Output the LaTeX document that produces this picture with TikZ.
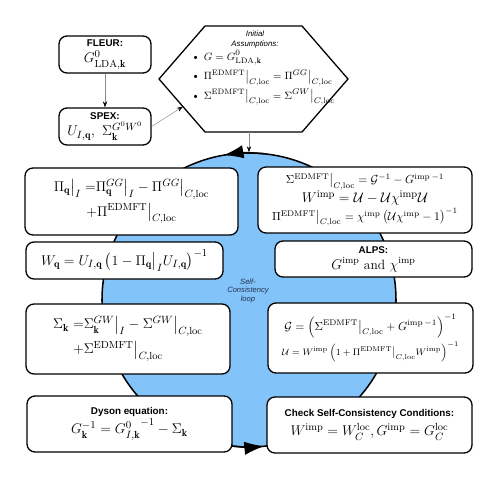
\documentclass[tikz,border=0pt]{standalone}
\usepackage{amsmath}
\usepackage{amssymb}
\usepackage{fontspec}
\newfontfamily\headfont{Liberation Sans}
\usepackage{tikz}
\usetikzlibrary{positioning, arrows.meta, calc}
\definecolor{loopFill}{RGB}{130,196,250}
\definecolor{loopText}{HTML}{24324F}
\definecolor{feedLine}{HTML}{8C8C8C}
\newcommand{\boxhead}[1]{{\headfont\bfseries\fontsize{8.4}{10}\selectfont #1}}
\newcommand{\cloc}{\big|_{C,\mathrm{loc}}}
\newcommand{\atI}{\big|_{I}}
\newcommand{\vq}{\mathbf{q}}
\newcommand{\vk}{\mathbf{k}}
\newcommand{\edm}{\mathrm{EDMFT}}
\newcommand{\imps}{\mathrm{imp}}
\newcommand{\tighteq}{\mathrel{=}\mkern-5mu}

\begin{document}
\begin{tikzpicture}[
  every node/.style={font=\fontsize{12.5}{15}\selectfont},
  eqbox/.style={rectangle, rounded corners=2.4mm, draw=black, line width=1.1pt,
              fill=white, align=center, inner sep=0.8mm},
  hexa/.style={draw=black, line width=1.1pt, fill=white, line join=miter},
  loopcirc/.style={circle, draw=black, line width=1.3pt, fill=loopFill,
              inner sep=0pt, minimum size=88.2mm},
  feed/.style={-{Stealth[length=1.8mm, width=1.3mm, color=black]}, draw=feedLine, line width=0.4pt},
  looptip/.style={-{Latex[length=6mm, width=4mm]}, black, line width=1.3pt},
]
  \useasboundingbox (0,0) rectangle (149.4mm,-144.9mm);

  % self-consistency loop
  \node[loopcirc] at (74.7mm, -90mm) (loop) {};
  \draw[looptip] ($(loop.center)+(84:44.1mm)$) arc (84:100:44.1mm);
  \draw[looptip] ($(loop.center)+(262:44.1mm)$) arc (262:276:44.1mm);
  \node[font=\headfont\itshape\fontsize{6.5}{7.5}\selectfont, text=loopText, align=center]
        at (74.4mm, -87.3mm) (looplbl) {Self-\\Consistency\\loop};

  % inputs
  \node[eqbox, minimum width=27.6mm, minimum height=11.1mm] at (31.5mm, -16.35mm) (fleur)
        {\boxhead{FLEUR:}\\[-0.5mm] $G^0_{\mathrm{LDA},\vk}$};
  \node[eqbox, minimum width=27.6mm, minimum height=11.1mm] at (31.5mm, -37.95mm) (spex)
        {\boxhead{SPEX:}\\[-0.5mm] $U_{I,\vq},\ \Sigma^{G^0W^0}_{\vk}$};

  % initial assumptions
  \coordinate (hex_w)  at (47.7mm, -23.7mm);
  \coordinate (hex_nw) at (61.5mm, -7.8mm);
  \coordinate (hex_ne) at (90.6mm, -7.8mm);
  \coordinate (hex_e)  at (104.4mm, -23.7mm);
  \coordinate (hex_se) at (90.6mm, -39.6mm);
  \coordinate (hex_sw) at (61.5mm, -39.6mm);
  \draw[hexa] (hex_w) -- (hex_nw) -- (hex_ne) -- (hex_e) -- (hex_se) -- (hex_sw) -- cycle;
  \node[font=\headfont\itshape\fontsize{6.7}{8}\selectfont, align=center]
        at (76.5mm, -11.8mm) (assumehd) {Initial\\Assumptions:};
  \node[font=\fontsize{9.5}{16.5}\selectfont, align=left, anchor=west]
        at (56.2mm, -23.4mm) (assume)
        {\textbullet\ $G=G^0_{\mathrm{LDA},\vk}$\\
         \textbullet\ $\Pi^{\edm}\cloc=\Pi^{GG}\cloc$\\
         \textbullet\ $\Sigma^{\edm}\cloc=\Sigma^{GW}\cloc$};
  \coordinate (hex_in) at ($(hex_w)!0.52!(hex_sw)$);

  % left half of the loop
  \node[eqbox, minimum width=63.9mm, minimum height=20.1mm] at (39.45mm, -60.45mm) (pol)
        {$\Pi_{\vq}\atI\tighteq\Pi^{GG}_{\vq}\atI-\Pi^{GG}\cloc$\\[1mm]
         $+\Pi^{\edm}\cloc$};
  \node[eqbox, minimum width=59.1mm, minimum height=11.1mm] at (37.35mm, -78.15mm) (scr)
        {$W_{\vq}=U_{I,\vq}\left(1-\Pi_{\vq}\atI U_{I,\vq}\right)^{-1}$};
  \node[eqbox, minimum width=61.2mm, minimum height=21mm] at (38.4mm, -101.7mm) (self)
        {$\Sigma_{\vk}\tighteq\Sigma^{GW}_{\vk}\atI-\Sigma^{GW}\cloc$\\[1mm]
         $+\Sigma^{\edm}\cloc$\hspace*{6mm}};
  \node[eqbox, minimum width=61.5mm, minimum height=16.8mm] at (38.85mm, -127.2mm) (dyson)
        {\boxhead{Dyson equation:}\\[0.5mm]
         $G^{-1}_{\vk}={G^0_{I,\vk}}^{-1}-\Sigma_{\vk}$};

  % right half of the loop
  \node[eqbox, minimum width=64.2mm, minimum height=19.8mm] at (109.5mm, -60mm) (imp)
        {{\fontsize{10}{12}\selectfont $\Sigma^{\edm}\cloc=\mathcal{G}^{-1}-G^{\imps\,-1}$}\\
         $W^{\imps}=\mathcal{U}-\mathcal{U}\chi^{\imps}\mathcal{U}$\\
         {\fontsize{10}{12}\selectfont $\Pi^{\edm}\cloc=\chi^{\imps}\left(\mathcal{U}\chi^{\imps}-1\right)^{-1}$}};
  \node[eqbox, minimum width=59.1mm, minimum height=10.8mm] at (112.05mm, -77.7mm) (alps)
        {\boxhead{ALPS:}\\[-0.5mm] {\fontsize{11.5}{13}\selectfont $G^{\imps}$ and $\chi^{\imps}$}};
  \node[eqbox, minimum width=61.5mm, minimum height=21mm] at (111.15mm, -101.4mm) (bath)
        {{\fontsize{10}{12}\selectfont $\mathcal{G}=\left(\Sigma^{\edm}\cloc+G^{\imps\,-1}\right)^{-1}$}\\[1mm]
         {\fontsize{8.5}{10}\selectfont $\mathcal{U}=W^{\imps}\left(1+\Pi^{\edm}\cloc W^{\imps}\right)^{-1}$}};
  \node[eqbox, minimum width=61.5mm, minimum height=16.8mm] at (110.85mm, -127.5mm) (check)
        {\boxhead{Check Self-Consistency Conditions:}\\[0.5mm]
         $W^{\imps}=W^{\mathrm{loc}}_{C},G^{\imps}=G^{\mathrm{loc}}_{C}$};

  % feeds into the loop
  \draw[feed] (fleur.south) -- (spex.north);
  \draw[feed] (spex.east) -- (hex_in);
  \draw[feed] (loop.north |- hex_sw) -- (loop.north);
\end{tikzpicture}
\end{document}
